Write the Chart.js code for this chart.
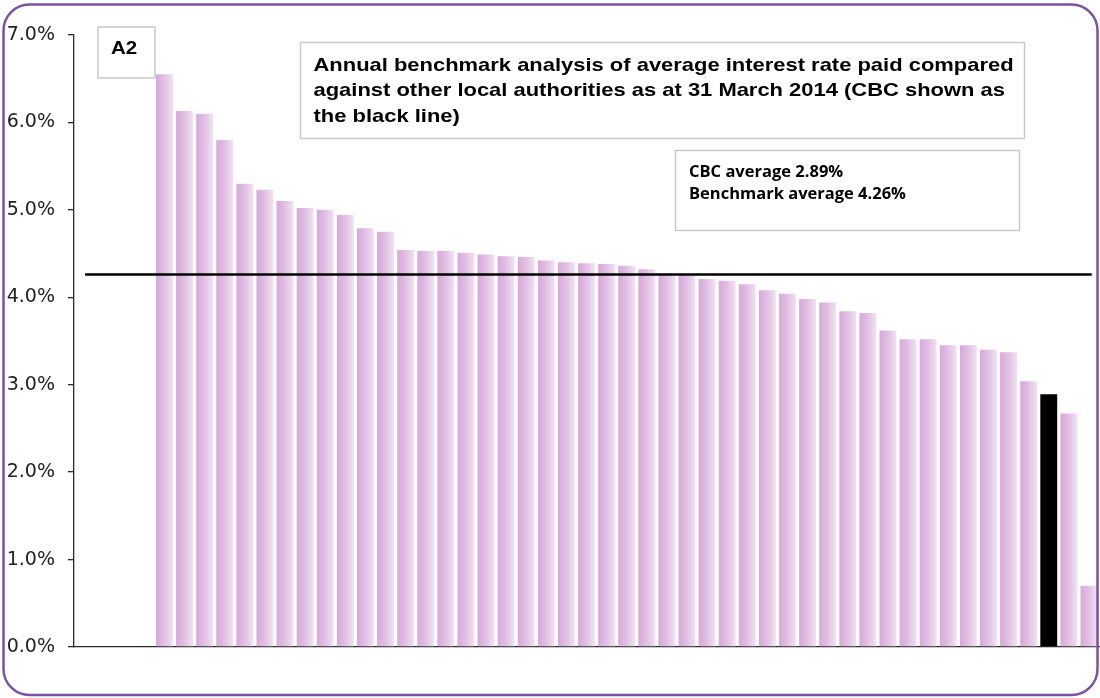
<!DOCTYPE html>
<html>
<head>
<meta charset="utf-8">
<script src="https://cdn.jsdelivr.net/npm/chart.js@4.4.1/dist/chart.umd.min.js"></script>
<style>
  html, body { margin: 0; padding: 0; background: #ffffff; }
  #wrap { position: relative; width: 1100px; height: 698px; }
  canvas { display: block; }
</style>
</head>
<body>
<div id="wrap"><canvas id="chart" width="1100" height="698"></canvas></div>
<script>
// Average interest rate paid by each local authority, sorted high to low (%)
const rates = [
  6.55, 6.13, 6.10, 5.80, 5.30, 5.23, 5.10, 5.02, 5.00, 4.94,
  4.79, 4.75, 4.54, 4.53, 4.53, 4.51, 4.49, 4.47, 4.46, 4.42,
  4.40, 4.39, 4.38, 4.36, 4.32, 4.27, 4.26, 4.21, 4.19, 4.15,
  4.08, 4.04, 3.98, 3.94, 3.84, 3.82, 3.62, 3.52, 3.52, 3.45,
  3.45, 3.40, 3.37, 3.04, 2.89, 2.67, 0.70
];
// Position of CBC in the ranking
const cbcIndex = 44;
const cbcAverage = 2.89;
const benchmarkAverage = 4.26;
// Horizontal reach of the benchmark line, in ranking units
const benchmarkSpan = [-3.95, 46.14];
// Y axis range and tick step (%)
const yTicks = { min: 0, max: 7, step: 1 };
// Ranking axis range (leaves room on the left of the first authority)
const xRange = { min: -4.5, max: 46.5 };

const titleLines = [
  'Annual benchmark analysis of average interest rate paid compared',
  'against other local authorities as at 31 March 2014 (CBC shown as',
  'the black line)'
];
const statLines = [
  'CBC average ' + cbcAverage.toFixed(2) + '%',
  'Benchmark average ' + benchmarkAverage.toFixed(2) + '%'
];
const panelLabel = 'A2';

const BAR_FRACTION = 0.84;

function barFill(context) {
  const chart = context.chart;
  if (context.dataIndex === cbcIndex) return '#000000';
  const xs = chart.scales && chart.scales.x;
  if (!xs || !chart.chartArea) return '#e2c2e4';
  const cx = xs.getPixelForValue(context.dataIndex);
  const pitch = Math.abs(xs.getPixelForValue(1) - xs.getPixelForValue(0));
  const half = pitch * BAR_FRACTION / 2;
  const g = chart.ctx.createLinearGradient(cx - half, 0, cx + half, 0);
  g.addColorStop(0, '#d7a9d9');
  g.addColorStop(0.45, '#e0bde2');
  g.addColorStop(1, '#f1e2f3');
  return g;
}

// Frame and annotation boxes around the plot
const decorations = {
  id: 'decorations',
  afterDraw(chart) {
    const ctx = chart.ctx;
    ctx.save();

    // White box with a light grey outline; leaves the pen ready for black text
    function box(x, y, w, h) {
      ctx.fillStyle = '#ffffff';
      ctx.fillRect(x, y, w, h);
      ctx.strokeStyle = '#c9c9c9';
      ctx.lineWidth = 1.5;
      ctx.strokeRect(x, y, w, h);
      ctx.fillStyle = '#000000';
    }

    // Text drawn slightly widened horizontally
    function wideText(text, x, y, stretch) {
      ctx.save();
      ctx.translate(x, y);
      ctx.scale(stretch, 1);
      ctx.fillText(text, 0, 0);
      ctx.restore();
    }

    ctx.textBaseline = 'alphabetic';
    ctx.textAlign = 'left';

    box(98, 27, 57, 51);
    ctx.font = 'bold 19px "Liberation Sans", Arial, sans-serif';
    wideText(panelLabel, 111, 53.5, 1.08);

    box(300.5, 42.5, 724, 96);
    ctx.font = 'bold 19px "Liberation Sans", Arial, sans-serif';
    titleLines.forEach((t, i) => wideText(t, 313.5, 70.5 + i * 25.5, 1.155));

    box(675.5, 150.5, 344, 80);
    ctx.font = 'bold 16.5px "Open Sans", sans-serif';
    statLines.forEach((t, i) => ctx.fillText(t, 689, 176.5 + i * 22.8));

    // Rounded purple frame
    ctx.strokeStyle = '#7b52a1';
    ctx.lineWidth = 2.5;
    ctx.beginPath();
    ctx.roundRect(3.5, 4.5, 1094, 690.5, 26);
    ctx.stroke();

    ctx.restore();
  }
};

new Chart(document.getElementById('chart'), {
  type: 'bar',
  data: {
    datasets: [
      {
        type: 'line',
        data: benchmarkSpan.map(x => ({ x: x, y: benchmarkAverage })),
        borderColor: '#000000',
        borderWidth: 2.6,
        pointRadius: 0,
        fill: false,
        order: 0
      },
      {
        type: 'bar',
        data: rates.map((v, i) => ({ x: i, y: v })),
        backgroundColor: barFill,
        borderWidth: 0,
        categoryPercentage: 1,
        barPercentage: BAR_FRACTION,
        order: 1
      }
    ]
  },
  options: {
    responsive: false,
    animation: false,
    events: [],
    layout: { padding: { left: 0, top: 35, right: 1, bottom: 51 } },
    plugins: { legend: { display: false }, tooltip: { enabled: false } },
    scales: {
      x: {
        type: 'linear',
        min: xRange.min,
        max: xRange.max,
        offset: false,
        ticks: { display: false },
        grid: { display: false },
        border: { display: true, color: '#2a2a2a', width: 1.3 },
        afterFit(scale) { scale.height = 0; }
      },
      y: {
        min: yTicks.min,
        max: yTicks.max,
        ticks: {
          stepSize: yTicks.step,
          padding: 13,
          color: '#222222',
          font: { family: '"DejaVu Sans", Verdana, sans-serif', size: 19 },
          callback: v => v.toFixed(1) + '%'
        },
        grid: {
          drawOnChartArea: false,
          drawTicks: true,
          tickLength: 6,
          color: '#2a2a2a',
          lineWidth: 1.3
        },
        border: { display: true, color: '#2a2a2a', width: 1.3 },
        afterFit(scale) { scale.width = 74; }
      }
    }
  },
  plugins: [decorations]
});
</script>
</body>
</html>
